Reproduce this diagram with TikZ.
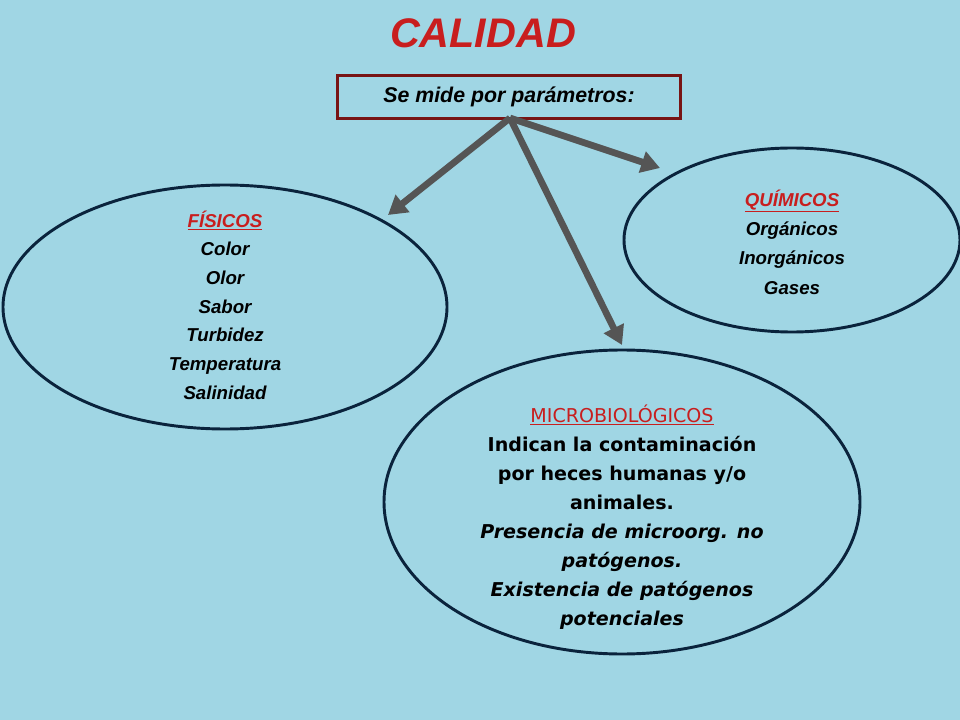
\documentclass[tikz,border=0pt]{standalone}
\usepackage{fontspec}
\setmainfont{Liberation Sans}
\newfontfamily\dv{DejaVu Sans}
\usetikzlibrary{arrows.meta}
\definecolor{bg}{RGB}{160,214,228}
\definecolor{ered}{RGB}{200,30,30}
\definecolor{navy}{RGB}{10,35,60}
\definecolor{arr}{RGB}{85,85,85}
\begin{document}
\begin{tikzpicture}[x=0.75pt,y=-0.75pt,
  ell/.style={draw=navy,line width=2.2pt,fill=bg},
  con/.style={draw=arr,line width=5pt,-{Triangle[length=14pt,width=16pt]}}]
\fill[bg] (0,0) rectangle (960,720);
\useasboundingbox (0,0) rectangle (960,720);
\node[text=ered,font=\bfseries\itshape\fontsize{31}{34}\selectfont] (title) at (483,33) {CALIDAD};
\node[draw={rgb,255:red,120;green,20;blue,20},line width=2.2pt,minimum width=257pt,minimum height=32pt,font=\bfseries\itshape\fontsize{16}{18}\selectfont] (box) at (509,97) {Se mide por parámetros:};
\coordinate (src) at (510,118);
\draw[ell] (225,307) ellipse (222 and 122);
\draw[ell] (792,240) ellipse (168 and 92);
\draw[ell] (622,502) ellipse (238 and 152);
\node[align=center,font=\bfseries\itshape\fontsize{14}{21.5}\selectfont] (fis) at (225,305) {\textcolor{ered}{\underline{FÍSICOS}}\\Color\\Olor\\Sabor\\Turbidez\\Temperatura\\Salinidad};
\node[align=center,font=\bfseries\itshape\fontsize{14}{22}\selectfont] (qui) at (792,242) {\textcolor{ered}{\underline{QUÍMICOS}}\\Orgánicos\\Inorgánicos\\Gases};
\node[align=center,font=\dv\bfseries\fontsize{14.3}{21.7}\selectfont] (mic) at (622,517) {\textcolor{ered}{\mdseries\underline{MICROBIOLÓGICOS}}\\Indican la contaminación\\por heces humanas y/o\\animales.\\\itshape Presencia de microorg. no\\\itshape patógenos.\\\itshape Existencia de patógenos\\\itshape potenciales};
\coordinate (a1) at (388,215);
\coordinate (a2) at (660,168);
\coordinate (a3) at (622,345);
\draw[con] (src) -- (a1);
\draw[con] (src) -- (a2);
\draw[con] (src) -- (a3);
\end{tikzpicture}
\end{document}
